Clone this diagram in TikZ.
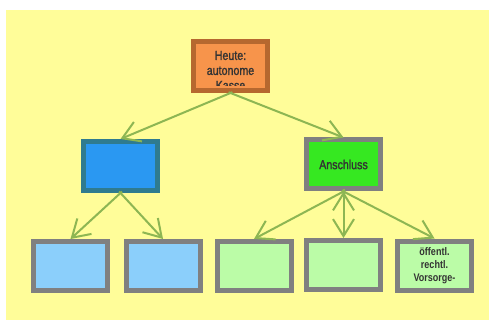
\documentclass[tikz,border=0pt]{standalone}
\usepackage{fontspec}
\setmainfont{Liberation Sans}
\newfontfamily\narrowfont[FakeStretch=0.82,FakeBold=1.5]{Liberation Sans}
\newfontfamily\narrowboldfont[FakeStretch=0.82]{Liberation Sans Bold}
\usetikzlibrary{arrows.meta}

\definecolor{bgyellow}{HTML}{FFFD99}
\definecolor{orangefill}{HTML}{F7944B}
\definecolor{orangeborder}{HTML}{B6682F}
\definecolor{bluefill}{HTML}{2A98F2}
\definecolor{blueborder}{HTML}{2F7B8F}
\definecolor{greenfill}{HTML}{36E821}
\definecolor{lightblue}{HTML}{8BCFFB}
\definecolor{lightgreen}{HTML}{BBFCA7}
\definecolor{boxgray}{HTML}{808080}
\definecolor{arrowgreen}{HTML}{8DB653}
\definecolor{textgray}{HTML}{333333}

\tikzset{
  box/.style={draw=boxgray, line width=5pt, minimum width=74pt, minimum height=49pt,
    inner sep=0pt, text=textgray, font=\narrowfont\fontsize{13}{15}\selectfont},
  link/.style={draw=arrowgreen, line width=2pt, shorten <=-2pt,
    -{Straight Barb[length=17pt,width=21pt]}}
}

\begin{document}
\begin{tikzpicture}[x=1pt, y=-1pt]
    \useasboundingbox (0,0) rectangle (489,320);
    \fill[bgyellow] (6,10) rectangle (489,320);
    %nodes
    \node[box, draw=orangeborder, fill=orangefill,
      path picture={
        \clip ([yshift=5pt]path picture bounding box.south west) rectangle (path picture bounding box.north east);
        \node[align=center, text=textgray, font=\narrowfont\fontsize{13}{15}\selectfont]
          at ([yshift=-4.5pt]path picture bounding box.center) {Heute:\\autonome\\Kasse};}]
      at (230.5,66) (heute) {};
    \node[box, draw=blueborder, fill=bluefill] at (120.5,166) (eigen) {};
    \node[box, fill=greenfill] at (343.5,164.5) (anschluss) {Anschluss};
    \node[box, fill=lightblue] at (70.5,266) (eigena) {};
    \node[box, fill=lightblue] at (163,266) (eigenb) {};
    \node[box, fill=lightgreen] at (254,266) (anschlussa) {};
    \node[box, fill=lightgreen] at (343.5,265) (anschlussb) {};
    \node[box, fill=lightgreen, align=center, font=\narrowboldfont\fontsize{11}{13}\selectfont]
      at (434.5,265.5) (vorsorge) {öffentl.\\rechtl.\\Vorsorge-};
    %arrows
    \path[link]
        (heute.south) edge (eigen.north)
        (heute.south) edge (anschluss.north)
        (eigen.south) edge (eigena.north)
        (eigen.south) edge (eigenb.north)
        (anschluss.south) edge (anschlussa.north)
        (anschluss.south) edge (anschlussb.north)
        (anschluss.south) edge (vorsorge.north);
\end{tikzpicture}
\end{document}
